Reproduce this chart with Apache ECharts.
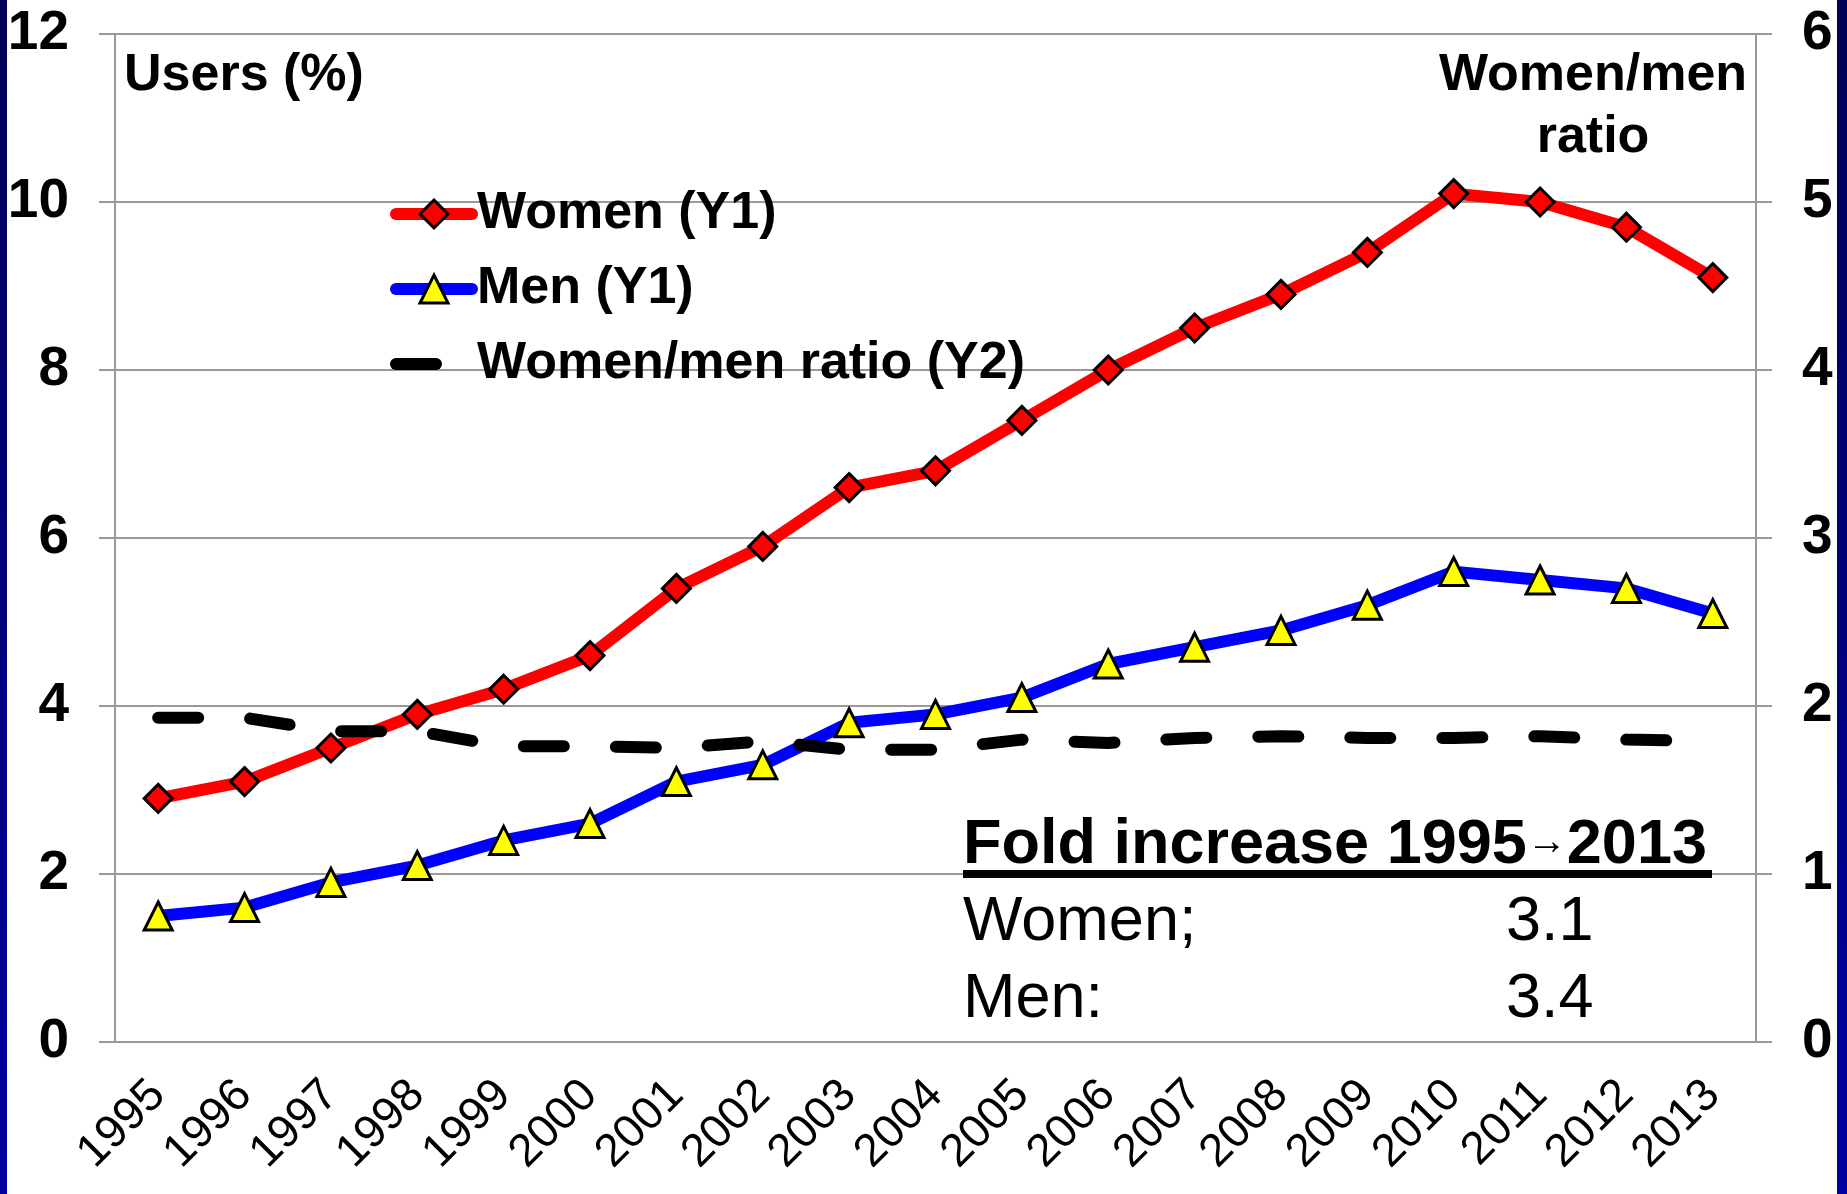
<!DOCTYPE html>
<html>
<head>
<meta charset="utf-8">
<title>Users (%) by sex, 1995-2013</title>
<script src="https://cdn.jsdelivr.net/npm/echarts@6/dist/echarts.min.js"></script>
<style>
    html, body { margin: 0; padding: 0; background: #fff; }
    #chart { width: 1847px; height: 1194px; }
</style>
</head>
<body>
<div id="chart"></div>
<script>
// Values
const years = ['1995', '1996', '1997', '1998', '1999', '2000', '2001', '2002', '2003', '2004',
               '2005', '2006', '2007', '2008', '2009', '2010', '2011', '2012', '2013'];
const womenUsers = [2.9, 3.1, 3.5, 3.9, 4.2, 4.6, 5.4, 5.9, 6.6, 6.8, 7.4, 8.0, 8.5, 8.9, 9.4, 10.1, 10.0, 9.7, 9.1];
const menUsers = [1.5, 1.6, 1.9, 2.1, 2.4, 2.6, 3.1, 3.3, 3.8, 3.9, 4.1, 4.5, 4.7, 4.9, 5.2, 5.6, 5.5, 5.4, 5.1];
const womenMenRatio = [1.93, 1.93, 1.85, 1.85, 1.76, 1.76, 1.75, 1.79, 1.74, 1.74, 1.80, 1.78, 1.81, 1.82, 1.81, 1.81, 1.82, 1.80, 1.79];
const foldLabels = ['Women;', 'Men:'];
const foldValues = ['3.1', '3.4'];

const FONT = '"Liberation Sans", Arial, sans-serif';
const GRID_GRAY = '#999';

// Navy slide edges
function edgeBand(x, w) {
    return {
        type: 'rect',
        shape: { x: x, y: 0, width: w, height: 1194 },
        style: {
            fill: new echarts.graphic.LinearGradient(0, 0, 0, 1, [
                { offset: 0, color: '#000058' },
                { offset: 1, color: '#0000a0' }
            ])
        },
        silent: true
    };
}

function plainText(x, y, text, size, bold, align) {
    return {
        type: 'text',
        x: x, y: y,
        style: {
            text: text,
            fontSize: size,
            fontWeight: bold ? 'bold' : 'normal',
            fontFamily: FONT,
            fill: '#000',
            align: align || 'left',
            verticalAlign: 'middle'
        },
        silent: true
    };
}

const ratioTitle = plainText(1593, 107, 'Women/men\nratio', 52, true, 'center');
ratioTitle.style.lineHeight = 62;

const graphics = [
    edgeBand(0, 7),
    edgeBand(1837, 10),
    plainText(124, 76, 'Users (%)', 52, true),
    ratioTitle,
    { type: 'rect', shape: { x: 963, y: 870, width: 749, height: 8 }, style: { fill: '#000' }, silent: true, z: 10 },
    {
        type: 'text',
        x: 963, y: 846,
        style: {
            text: '{a|Fold increase ' + years[0] + '}{b|→}{a|' + years[years.length - 1] + '}',
            fill: '#000',
            verticalAlign: 'middle',
            rich: {
                a: { fontSize: 63, fontWeight: 'bold', fontFamily: FONT, fill: '#000', verticalAlign: 'middle', lineHeight: 70 },
                b: { fontSize: 40, fontWeight: 'bold', fontFamily: FONT, fill: '#000', verticalAlign: 'middle', lineHeight: 40, padding: [0, 0, 6, 0] }
            }
        },
        silent: true
    }
];
foldLabels.forEach((label, i) => {
    graphics.push(plainText(963, 923 + i * 77, label, 63, false));
    graphics.push(plainText(1506, 923 + i * 77, foldValues[i], 63, false));
});

const chart = echarts.init(document.getElementById('chart'));
const option = {
    backgroundColor: '#fff',
    animation: false,
    grid: { left: 115, right: 91, top: 34, bottom: 152 },
    legend: {
        orient: 'vertical',
        left: 385,
        top: 181,
        itemWidth: 76,
        itemHeight: 35,
        itemGap: 19,
        textStyle: { fontSize: 52, fontWeight: 'bold', color: '#000', fontFamily: FONT, lineHeight: 56 },
        lineStyle: { width: 12, cap: 'round' },
        itemStyle: { borderWidth: 3, borderColor: '#000' },
        data: [
            { name: 'Women (Y1)' },
            { name: 'Men (Y1)' },
            { name: 'Women/men ratio (Y2)', itemStyle: { opacity: 0 } }
        ]
    },
    xAxis: {
        type: 'category',
        data: years,
        boundaryGap: true,
        axisLine: { lineStyle: { color: GRID_GRAY, width: 2 } },
        axisTick: { length: 14, lineStyle: { color: GRID_GRAY, width: 2 } },
        axisLabel: { rotate: 45, interval: 0, fontSize: 46, color: '#000', fontFamily: FONT, margin: 46 }
    },
    yAxis: [
        {
            type: 'value', min: 0, max: 12, interval: 2, position: 'left',
            axisLine: { show: true, lineStyle: { color: GRID_GRAY, width: 2 } },
            axisTick: { show: true, length: 16, lineStyle: { color: GRID_GRAY, width: 2 } },
            axisLabel: { fontSize: 55, fontWeight: 'bold', color: '#000', fontFamily: FONT, margin: 46 },
            splitLine: { lineStyle: { color: GRID_GRAY, width: 2 } }
        },
        {
            type: 'value', min: 0, max: 6, interval: 1, position: 'right',
            axisLine: { show: true, lineStyle: { color: GRID_GRAY, width: 2 } },
            axisTick: { show: true, length: 16, lineStyle: { color: GRID_GRAY, width: 2 } },
            axisLabel: { fontSize: 55, fontWeight: 'bold', color: '#000', fontFamily: FONT, margin: 46 },
            splitLine: { show: false }
        }
    ],
    series: [
        {
            name: 'Women (Y1)', type: 'line', data: womenUsers,
            symbol: 'diamond', symbolSize: 28,
            lineStyle: { color: '#ff0000', width: 12 },
            itemStyle: { color: '#ff0000', borderColor: '#000', borderWidth: 3 }
        },
        {
            name: 'Men (Y1)', type: 'line', data: menUsers,
            symbol: 'triangle', symbolSize: 28,
            lineStyle: { color: '#0000ff', width: 12 },
            itemStyle: { color: '#ffff00', borderColor: '#000', borderWidth: 3 }
        },
        {
            name: 'Women/men ratio (Y2)', type: 'line', data: womenMenRatio, yAxisIndex: 1,
            symbol: 'none',
            lineStyle: { color: '#000', width: 12, type: [40, 52], cap: 'round' },
            itemStyle: { color: '#000' },
            z: 3
        }
    ],
    graphic: graphics
};
chart.setOption(option);
</script>
</body>
</html>
